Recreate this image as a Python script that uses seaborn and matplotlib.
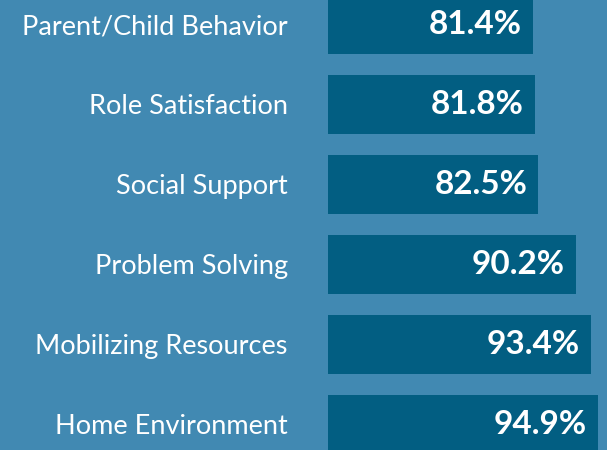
import matplotlib
matplotlib.use("Agg")
import matplotlib.pyplot as plt
import seaborn as sns
import pandas as pd

categories = ["Parent/Child Behavior", "Role Satisfaction", "Social Support",
              "Problem Solving", "Mobilizing Resources", "Home Environment"]
values = [81.4, 81.8, 82.5, 90.2, 93.4, 94.9]
labels = ["81.4%", "81.8%", "82.5%", "90.2%", "93.4%", "94.9%"]

BG = "#4189b2"
BAR = "#025e82"

sns.set_theme(style="white")
plt.rcParams['font.family'] = ['Lato', 'DejaVu Sans']

df = pd.DataFrame({"cat": categories, "val": values})

fig = plt.figure(figsize=(6.07, 4.5), dpi=100)
fig.patch.set_facecolor(BG)
ax = fig.add_axes([328/607, 0, 1 - 328/607, 1])
ax.set_facecolor(BG)

sns.barplot(data=df, x="val", y="cat", color=BAR, saturation=1, width=0.74,
            orient="h", linewidth=0, edgecolor=BAR, ax=ax)

ax.set_xlim(38.9, 96.7)
ax.set_ylim(5.319, -0.306)

for i, (v, t) in enumerate(zip(values, labels)):
    ax.annotate(t, xy=(v, i), xytext=(-8, 0), textcoords="offset points",
                ha="right", va="center", color="white", fontsize=24,
                fontweight="bold")

ax.set_xlabel("")
ax.set_ylabel("")
ax.set_xticks([])
ax.tick_params(axis="y", length=0, pad=29, labelsize=19.5, labelcolor="white")
for s in ax.spines.values():
    s.set_visible(False)

fig.savefig("out.png", dpi=100, facecolor=BG)
